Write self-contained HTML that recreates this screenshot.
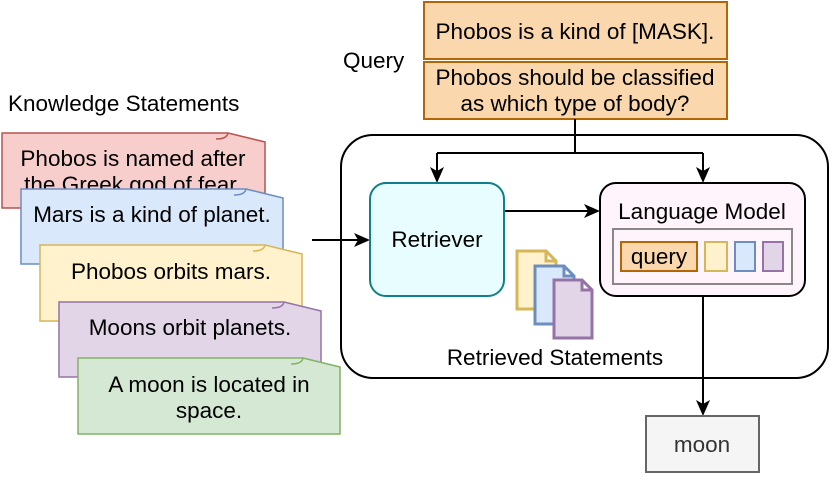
<!DOCTYPE html>
<html><head><meta charset="utf-8"><style>
html,body{margin:0;padding:0;background:#fff;}
svg{display:block;font-family:"Liberation Sans",Arial,sans-serif;}
</style></head><body>
<svg width="831" height="482" viewBox="0 0 831 482" xmlns="http://www.w3.org/2000/svg">
<g font-size="22.5">
<text x="8" y="111">Knowledge Statements</text>
<text x="343" y="68">Query</text>
</g>

<!-- cards -->
<g font-size="22.5" text-anchor="middle">
<path d="M2,133 H228 L265,142 V208 H2 Z" fill="#f8cecc" stroke="#b85450" stroke-width="1.5"/>
<path d="M216,139 Q227,139 228,133" fill="none" stroke="#b85450" stroke-width="1.5"/>
<text x="133" y="166">Phobos is named after</text>
<text x="133" y="192">the Greek god of fear.</text>
<path d="M21,189 H246 L283,198 V264 H21 Z" fill="#dae8fc" stroke="#6c8ebf" stroke-width="1.5"/>
<path d="M234,195 Q245,195 246,189" fill="none" stroke="#6c8ebf" stroke-width="1.5"/>
<text x="152" y="222">Mars is a kind of planet.</text>
<path d="M40,245 H265 L302,254 V321 H40 Z" fill="#fff2cc" stroke="#d6b656" stroke-width="1.5"/>
<path d="M253,251 Q264,251 265,245" fill="none" stroke="#d6b656" stroke-width="1.5"/>
<text x="171" y="279">Phobos orbits mars.</text>
<path d="M59,302 H284 L321,311 V377 H59 Z" fill="#e1d5e7" stroke="#9673a6" stroke-width="1.5"/>
<path d="M272,308 Q283,308 284,302" fill="none" stroke="#9673a6" stroke-width="1.5"/>
<text x="190" y="335">Moons orbit planets.</text>
<path d="M78,358 H303 L340,367 V434 H78 Z" fill="#d5e8d4" stroke="#82b366" stroke-width="1.5"/>
<path d="M291,364 Q302,364 303,358" fill="none" stroke="#82b366" stroke-width="1.5"/>
<text x="209" y="392">A moon is located in</text>
<text x="209" y="418">space.</text>
</g>

<!-- big container -->
<rect x="341" y="135" width="487" height="243" rx="32" fill="none" stroke="#000" stroke-width="2"/>

<!-- query boxes -->
<rect x="424" y="2" width="303" height="57" fill="#fad7ac" stroke="#b46504" stroke-width="2"/>
<text x="575" y="39" font-size="22.5" text-anchor="middle">Phobos is a kind of [MASK].</text>
<rect x="424" y="62" width="303" height="57" fill="#fad7ac" stroke="#b46504" stroke-width="2"/>
<text x="575" y="85" font-size="22.5" text-anchor="middle">Phobos should be classified</text>
<text x="575" y="111" font-size="22.5" text-anchor="middle">as which type of body?</text>

<!-- connectors -->
<g fill="none" stroke="#000" stroke-width="2">
<path d="M575,119 V153 M437,153 H703"/>
<path d="M437,153 V172"/>
<path d="M703,153 V172"/>
<path d="M312,240 H360"/>
<path d="M505,211 H590"/>
<path d="M703,297 V405"/>
</g>
<g fill="#000">
<path d="M437,183 L430,167 L437,171 L444,167 Z"/>
<path d="M703,183 L696,167 L703,171 L710,167 Z"/>
<path d="M370,240 L354,233 L358,240 L354,247 Z"/>
<path d="M600,211 L584,204 L588,211 L584,218 Z"/>
<path d="M703,416 L696,400 L703,404 L710,400 Z"/>
</g>

<!-- retriever -->
<rect x="370" y="183" width="134" height="113" rx="16" fill="#e8fdff" stroke="#0e8088" stroke-width="2"/>
<text x="437" y="247" font-size="22.5" text-anchor="middle">Retriever</text>

<!-- LM -->
<rect x="600" y="183" width="205" height="113" rx="16" fill="#fff4fb" stroke="#000" stroke-width="2"/>
<text x="702" y="219" font-size="22.5" text-anchor="middle">Language Model</text>
<rect x="613" y="229" width="179" height="55" fill="none" stroke="#888" stroke-width="2"/>
<rect x="621" y="242" width="76" height="29" fill="#fad7ac" stroke="#b46504" stroke-width="2"/>
<text x="659" y="264" font-size="22.5" text-anchor="middle">query</text>
<rect x="705" y="242" width="22" height="29" fill="#fff2cc" stroke="#d6b656" stroke-width="2"/>
<rect x="735" y="242" width="20" height="29" fill="#dae8fc" stroke="#6c8ebf" stroke-width="2"/>
<rect x="763" y="242" width="20" height="29" fill="#e1d5e7" stroke="#9673a6" stroke-width="2"/>

<!-- docs -->
<path d="M517,251 H546 L556,261 V309 H517 Z M546,251 V261 H556" fill="#fff2cc" stroke="#d6b656" stroke-width="3"/>
<path d="M535,266 H564 L574,276 V324 H535 Z M564,266 V276 H574" fill="#dae8fc" stroke="#6c8ebf" stroke-width="3"/>
<path d="M554,280 H582 L592,290 V338 H554 Z M582,280 V290 H592" fill="#e1d5e7" stroke="#9673a6" stroke-width="3"/>
<text x="555" y="365" font-size="22.5" text-anchor="middle">Retrieved Statements</text>

<!-- moon -->
<rect x="646" y="416" width="113" height="56" fill="#f5f5f5" stroke="#666" stroke-width="2"/>
<text x="702" y="452" font-size="22.5" text-anchor="middle" fill="#333">moon</text>
</svg>
</body></html>
